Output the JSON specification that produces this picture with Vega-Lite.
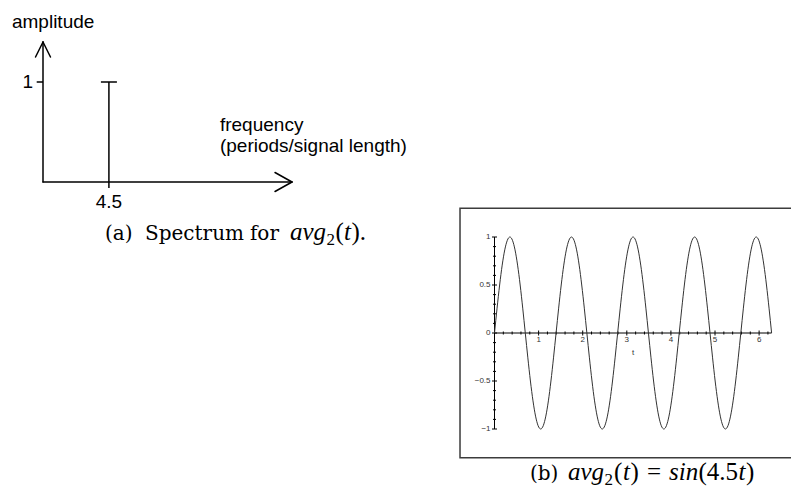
{
  "$schema": "https://vega.github.io/schema/vega-lite/v6.json",
  "width": 791,
  "height": 488,
  "padding": 0,
  "autosize": {"type": "none"},
  "background": "white",
  "config": {"view": {"stroke": null}, "axis": {"disable": true}},
  "datasets": {
    "axesA": [
      {"x": 0, "y": 0, "x2": 0, "y2": 1.4},
      {"x": 0, "y": 0, "x2": 17, "y2": 0},
      {"x": -0.51, "y": 1.25, "x2": 0, "y2": 1.4},
      {"x": 0.51, "y": 1.25, "x2": 0, "y2": 1.4},
      {"x": 15.84, "y": 0.095, "x2": 17, "y2": 0},
      {"x": 15.84, "y": -0.095, "x2": 17, "y2": 0}
    ],
    "spectrum": [{"freq": 4.5, "amp": 1}],
    "labelsA": [
      {"x": -2.12, "y": 1.54, "text": "amplitude"},
      {"x": 12.08, "y": 0.513, "text": "frequency"},
      {"x": 12.08, "y": 0.303, "text": "(periods/signal length)"}
    ],
    "captionA": [
      {"x": 4.233, "y": -0.58, "text": "(a)", "style": "rm"},
      {"x": 6.964, "y": -0.58, "text": "Spectrum", "style": "rm"},
      {"x": 14.13, "y": -0.58, "text": "for", "style": "rm"},
      {"x": 16.86, "y": -0.58, "text": "avg", "style": "mit"},
      {"x": 19.36, "y": -0.63, "text": "2", "style": "sub"},
      {"x": 19.97, "y": -0.58, "text": "(", "style": "mrm"},
      {"x": 20.55, "y": -0.58, "text": "t", "style": "mit"},
      {"x": 21.06, "y": -0.58, "text": ").", "style": "mrm"}
    ],
    "frameB": [{"x": -0.782, "x2": 6.95, "y": -1.3, "y2": 1.3}],
    "axesB": [
      {"x": 0, "y": -1, "x2": 0, "y2": 1},
      {"x": 0, "y": 0, "x2": 6.2832, "y2": 0}
    ],
    "yTicks": [
      {"v": -1, "major": true}, {"v": -0.5, "major": true}, {"v": 0, "major": true},
      {"v": 0.5, "major": true}, {"v": 1, "major": true},
      {"v": -0.9, "major": false}, {"v": -0.8, "major": false}, {"v": -0.7, "major": false},
      {"v": -0.6, "major": false}, {"v": -0.4, "major": false}, {"v": -0.3, "major": false},
      {"v": -0.2, "major": false}, {"v": -0.1, "major": false}, {"v": 0.1, "major": false},
      {"v": 0.2, "major": false}, {"v": 0.3, "major": false}, {"v": 0.4, "major": false},
      {"v": 0.6, "major": false}, {"v": 0.7, "major": false}, {"v": 0.8, "major": false},
      {"v": 0.9, "major": false}
    ],
    "xTicks": [
      {"v": 1, "major": true}, {"v": 2, "major": true}, {"v": 3, "major": true},
      {"v": 4, "major": true}, {"v": 5, "major": true}, {"v": 6, "major": true},
      {"v": 0.2, "major": false}, {"v": 0.4, "major": false}, {"v": 0.6, "major": false},
      {"v": 0.8, "major": false}, {"v": 1.2, "major": false}, {"v": 1.4, "major": false},
      {"v": 1.6, "major": false}, {"v": 1.8, "major": false}, {"v": 2.2, "major": false},
      {"v": 2.4, "major": false}, {"v": 2.6, "major": false}, {"v": 2.8, "major": false},
      {"v": 3.2, "major": false}, {"v": 3.4, "major": false}, {"v": 3.6, "major": false},
      {"v": 3.8, "major": false}, {"v": 4.2, "major": false}, {"v": 4.4, "major": false},
      {"v": 4.6, "major": false}, {"v": 4.8, "major": false}, {"v": 5.2, "major": false},
      {"v": 5.4, "major": false}, {"v": 5.6, "major": false}, {"v": 5.8, "major": false},
      {"v": 6.2, "major": false}
    ],
    "wave": [
      {"t": 0, "v": 0}, {"t": 0.0582, "v": 0.2588}, {"t": 0.1164, "v": 0.5}, {"t": 0.1745, "v": 0.7071},
      {"t": 0.2327, "v": 0.866}, {"t": 0.2909, "v": 0.9659}, {"t": 0.3491, "v": 1}, {"t": 0.4072, "v": 0.9659},
      {"t": 0.4654, "v": 0.866}, {"t": 0.5236, "v": 0.7071}, {"t": 0.5818, "v": 0.5}, {"t": 0.64, "v": 0.2588},
      {"t": 0.6981, "v": 0}, {"t": 0.7563, "v": -0.2588}, {"t": 0.8145, "v": -0.5}, {"t": 0.8727, "v": -0.7071},
      {"t": 0.9308, "v": -0.866}, {"t": 0.989, "v": -0.9659}, {"t": 1.0472, "v": -1}, {"t": 1.1054, "v": -0.9659},
      {"t": 1.1636, "v": -0.866}, {"t": 1.2217, "v": -0.7071}, {"t": 1.2799, "v": -0.5}, {"t": 1.3381, "v": -0.2588},
      {"t": 1.3963, "v": 0}, {"t": 1.4544, "v": 0.2588}, {"t": 1.5126, "v": 0.5}, {"t": 1.5708, "v": 0.7071},
      {"t": 1.629, "v": 0.866}, {"t": 1.6872, "v": 0.9659}, {"t": 1.7453, "v": 1}, {"t": 1.8035, "v": 0.9659},
      {"t": 1.8617, "v": 0.866}, {"t": 1.9199, "v": 0.7071}, {"t": 1.978, "v": 0.5}, {"t": 2.0362, "v": 0.2588},
      {"t": 2.0944, "v": 0}, {"t": 2.1526, "v": -0.2588}, {"t": 2.2108, "v": -0.5}, {"t": 2.2689, "v": -0.7071},
      {"t": 2.3271, "v": -0.866}, {"t": 2.3853, "v": -0.9659}, {"t": 2.4435, "v": -1}, {"t": 2.5016, "v": -0.9659},
      {"t": 2.5598, "v": -0.866}, {"t": 2.618, "v": -0.7071}, {"t": 2.6762, "v": -0.5}, {"t": 2.7344, "v": -0.2588},
      {"t": 2.7925, "v": 0}, {"t": 2.8507, "v": 0.2588}, {"t": 2.9089, "v": 0.5}, {"t": 2.9671, "v": 0.7071},
      {"t": 3.0252, "v": 0.866}, {"t": 3.0834, "v": 0.9659}, {"t": 3.1416, "v": 1}, {"t": 3.1998, "v": 0.9659},
      {"t": 3.258, "v": 0.866}, {"t": 3.3161, "v": 0.7071}, {"t": 3.3743, "v": 0.5}, {"t": 3.4325, "v": 0.2588},
      {"t": 3.4907, "v": 0}, {"t": 3.5488, "v": -0.2588}, {"t": 3.607, "v": -0.5}, {"t": 3.6652, "v": -0.7071},
      {"t": 3.7234, "v": -0.866}, {"t": 3.7815, "v": -0.9659}, {"t": 3.8397, "v": -1}, {"t": 3.8979, "v": -0.9659},
      {"t": 3.9561, "v": -0.866}, {"t": 4.0143, "v": -0.7071}, {"t": 4.0724, "v": -0.5}, {"t": 4.1306, "v": -0.2588},
      {"t": 4.1888, "v": 0}, {"t": 4.247, "v": 0.2588}, {"t": 4.3051, "v": 0.5}, {"t": 4.3633, "v": 0.7071},
      {"t": 4.4215, "v": 0.866}, {"t": 4.4797, "v": 0.9659}, {"t": 4.5379, "v": 1}, {"t": 4.596, "v": 0.9659},
      {"t": 4.6542, "v": 0.866}, {"t": 4.7124, "v": 0.7071}, {"t": 4.7706, "v": 0.5}, {"t": 4.8287, "v": 0.2588},
      {"t": 4.8869, "v": 0}, {"t": 4.9451, "v": -0.2588}, {"t": 5.0033, "v": -0.5}, {"t": 5.0615, "v": -0.7071},
      {"t": 5.1196, "v": -0.866}, {"t": 5.1778, "v": -0.9659}, {"t": 5.236, "v": -1}, {"t": 5.2941, "v": -0.9659},
      {"t": 5.3523, "v": -0.866}, {"t": 5.4105, "v": -0.7071}, {"t": 5.4687, "v": -0.5}, {"t": 5.5269, "v": -0.2588},
      {"t": 5.5851, "v": 0}, {"t": 5.6432, "v": 0.2588}, {"t": 5.7014, "v": 0.5}, {"t": 5.7596, "v": 0.7071},
      {"t": 5.8178, "v": 0.866}, {"t": 5.876, "v": 0.9659}, {"t": 5.9341, "v": 1}, {"t": 5.9923, "v": 0.9659},
      {"t": 6.0505, "v": 0.866}, {"t": 6.1087, "v": 0.7071}, {"t": 6.1669, "v": 0.5}, {"t": 6.225, "v": 0.2588},
      {"t": 6.2832, "v": 0}
    ],
    "axisTitleB": [{"t": 3.1416, "v": -0.205, "text": "t"}],
    "captionB": [
      {"x": 0.805, "y": -1.531, "text": "(b)", "style": "rm"},
      {"x": 1.667, "y": -1.531, "text": "avg", "style": "mit"},
      {"x": 2.494, "y": -1.583, "text": "2", "style": "sub"},
      {"x": 2.71, "y": -1.531, "text": "(", "style": "mrm"},
      {"x": 2.914, "y": -1.531, "text": "t", "style": "mit"},
      {"x": 3.084, "y": -1.531, "text": ")", "style": "mrm"},
      {"x": 3.458, "y": -1.531, "text": "=", "style": "mrm"},
      {"x": 3.957, "y": -1.531, "text": "sin", "style": "mit"},
      {"x": 4.626, "y": -1.531, "text": "(4.5", "style": "mrm"},
      {"x": 5.533, "y": -1.531, "text": "t", "style": "mit"},
      {"x": 5.703, "y": -1.531, "text": ")", "style": "mrm"}
    ]
  },
  "layer": [
    {
      "layer": [
        {
          "data": {"name": "axesA"},
          "mark": {"type": "rule", "color": "black", "strokeWidth": 1.5, "strokeCap": "round"},
          "encoding": {
            "x": {"field": "x", "type": "quantitative", "axis": null,
                  "scale": {"domain": [0, 17], "range": [43, 292], "nice": false, "zero": false}},
            "y": {"field": "y", "type": "quantitative", "axis": null,
                  "scale": {"domain": [0, 1.4], "range": [182, 42], "nice": false, "zero": false}},
            "x2": {"field": "x2"},
            "y2": {"field": "y2"}
          }
        },
        {
          "data": {"name": "spectrum"},
          "mark": {"type": "rule", "color": "black", "strokeWidth": 1.5},
          "encoding": {
            "x": {"field": "freq", "type": "quantitative"},
            "y": {"field": "amp", "type": "quantitative"},
            "y2": {"datum": -0.06}
          }
        },
        {
          "data": {"name": "spectrum"},
          "mark": {"type": "tick", "orient": "horizontal", "size": 16, "thickness": 1.5, "color": "black", "opacity": 1},
          "encoding": {
            "x": {"field": "freq", "type": "quantitative"},
            "y": {"field": "amp", "type": "quantitative"}
          }
        },
        {
          "data": {"name": "spectrum"},
          "mark": {"type": "rule", "color": "black", "strokeWidth": 1.5},
          "encoding": {
            "x": {"datum": -0.43},
            "x2": {"datum": 0},
            "y": {"field": "amp", "type": "quantitative"}
          }
        },
        {
          "data": {"name": "spectrum"},
          "mark": {"type": "text", "font": "Liberation Sans", "fontSize": 19, "color": "black", "align": "center", "baseline": "middle", "dy": 20},
          "encoding": {
            "x": {"field": "freq", "type": "quantitative"},
            "y": {"datum": 0},
            "text": {"field": "freq", "type": "quantitative"}
          }
        },
        {
          "data": {"name": "spectrum"},
          "mark": {"type": "text", "font": "Liberation Sans", "fontSize": 19, "color": "black", "align": "right", "baseline": "middle", "dx": -10},
          "encoding": {
            "x": {"datum": 0},
            "y": {"field": "amp", "type": "quantitative"},
            "text": {"field": "amp", "type": "quantitative"}
          }
        },
        {
          "data": {"name": "labelsA"},
          "mark": {"type": "text", "font": "Liberation Sans", "fontSize": 19, "color": "black", "align": "left", "baseline": "alphabetic"},
          "encoding": {
            "x": {"field": "x", "type": "quantitative"},
            "y": {"field": "y", "type": "quantitative"},
            "text": {"field": "text"}
          }
        },
        {
          "data": {"name": "captionA"},
          "transform": [{"filter": "datum.style === 'rm'"}],
          "mark": {"type": "text", "font": "DejaVu Serif", "fontSize": 20, "color": "black", "align": "left", "baseline": "alphabetic"},
          "encoding": {
            "x": {"field": "x", "type": "quantitative"},
            "y": {"field": "y", "type": "quantitative"},
            "text": {"field": "text"}
          }
        },
        {
          "data": {"name": "captionA"},
          "transform": [{"filter": "datum.style === 'mrm'"}],
          "mark": {"type": "text", "font": "Liberation Serif", "fontSize": 25, "color": "black", "align": "left", "baseline": "alphabetic"},
          "encoding": {
            "x": {"field": "x", "type": "quantitative"},
            "y": {"field": "y", "type": "quantitative"},
            "text": {"field": "text"}
          }
        },
        {
          "data": {"name": "captionA"},
          "transform": [{"filter": "datum.style === 'mit'"}],
          "mark": {"type": "text", "font": "Liberation Serif", "fontStyle": "italic", "fontSize": 25, "color": "black", "align": "left", "baseline": "alphabetic"},
          "encoding": {
            "x": {"field": "x", "type": "quantitative"},
            "y": {"field": "y", "type": "quantitative"},
            "text": {"field": "text"}
          }
        },
        {
          "data": {"name": "captionA"},
          "transform": [{"filter": "datum.style === 'sub'"}],
          "mark": {"type": "text", "font": "Liberation Serif", "fontSize": 17, "color": "black", "align": "left", "baseline": "alphabetic"},
          "encoding": {
            "x": {"field": "x", "type": "quantitative"},
            "y": {"field": "y", "type": "quantitative"},
            "text": {"field": "text"}
          }
        }
      ]
    },
    {
      "layer": [
        {
          "data": {"name": "frameB"},
          "mark": {"type": "rect", "fillOpacity": 0, "stroke": "#3c3c3c", "strokeWidth": 1.5},
          "encoding": {
            "x": {"field": "x", "type": "quantitative", "axis": null,
                  "scale": {"domain": [0, 6.2832], "range": [494.5, 771.6], "nice": false, "zero": false}},
            "x2": {"field": "x2"},
            "y": {"field": "y", "type": "quantitative", "axis": null,
                  "scale": {"domain": [-1, 1], "range": [429, 237], "nice": false, "zero": false}},
            "y2": {"field": "y2"}
          }
        },
        {
          "data": {"name": "axesB"},
          "mark": {"type": "rule", "color": "black", "strokeWidth": 1},
          "encoding": {
            "x": {"field": "x", "type": "quantitative"},
            "x2": {"field": "x2"},
            "y": {"field": "y", "type": "quantitative"},
            "y2": {"field": "y2"}
          }
        },
        {
          "data": {"name": "yTicks"},
          "transform": [{"filter": "datum.major"}],
          "mark": {"type": "tick", "orient": "horizontal", "size": 5, "thickness": 1, "color": "black", "opacity": 1},
          "encoding": {
            "x": {"datum": 0},
            "y": {"field": "v", "type": "quantitative"}
          }
        },
        {
          "data": {"name": "yTicks"},
          "transform": [{"filter": "!datum.major"}],
          "mark": {"type": "tick", "orient": "horizontal", "size": 3, "thickness": 1, "color": "black", "opacity": 1},
          "encoding": {
            "x": {"datum": 0},
            "y": {"field": "v", "type": "quantitative"}
          }
        },
        {
          "data": {"name": "xTicks"},
          "transform": [{"filter": "datum.major"}],
          "mark": {"type": "tick", "orient": "vertical", "size": 5, "thickness": 1, "color": "black", "opacity": 1},
          "encoding": {
            "x": {"field": "v", "type": "quantitative"},
            "y": {"datum": 0}
          }
        },
        {
          "data": {"name": "xTicks"},
          "transform": [{"filter": "!datum.major"}],
          "mark": {"type": "tick", "orient": "vertical", "size": 3, "thickness": 1, "color": "black", "opacity": 1},
          "encoding": {
            "x": {"field": "v", "type": "quantitative"},
            "y": {"datum": 0}
          }
        },
        {
          "data": {"name": "yTicks"},
          "transform": [{"filter": "datum.major"}],
          "mark": {"type": "text", "font": "Liberation Sans", "fontSize": 8, "color": "#333", "align": "right", "baseline": "middle", "dx": -4},
          "encoding": {
            "x": {"datum": 0},
            "y": {"field": "v", "type": "quantitative"},
            "text": {"field": "v", "type": "quantitative", "format": "~g"}
          }
        },
        {
          "data": {"name": "xTicks"},
          "transform": [{"filter": "datum.major"}],
          "mark": {"type": "text", "font": "Liberation Sans", "fontSize": 8, "color": "#333", "align": "center", "baseline": "top", "dy": 3},
          "encoding": {
            "x": {"field": "v", "type": "quantitative"},
            "y": {"datum": 0},
            "text": {"field": "v", "type": "quantitative", "format": "~g"}
          }
        },
        {
          "data": {"name": "axisTitleB"},
          "mark": {"type": "text", "font": "Liberation Sans", "fontSize": 8, "color": "#333", "align": "center", "baseline": "middle"},
          "encoding": {
            "x": {"field": "t", "type": "quantitative"},
            "y": {"field": "v", "type": "quantitative"},
            "text": {"field": "text"}
          }
        },
        {
          "data": {"name": "wave"},
          "mark": {"type": "line", "color": "#333", "strokeWidth": 1, "interpolate": "monotone"},
          "encoding": {
            "x": {"field": "t", "type": "quantitative"},
            "y": {"field": "v", "type": "quantitative"}
          }
        },
        {
          "data": {"name": "captionB"},
          "transform": [{"filter": "datum.style === 'rm'"}],
          "mark": {"type": "text", "font": "DejaVu Serif", "fontSize": 20, "color": "black", "align": "left", "baseline": "alphabetic"},
          "encoding": {
            "x": {"field": "x", "type": "quantitative"},
            "y": {"field": "y", "type": "quantitative"},
            "text": {"field": "text"}
          }
        },
        {
          "data": {"name": "captionB"},
          "transform": [{"filter": "datum.style === 'mrm'"}],
          "mark": {"type": "text", "font": "Liberation Serif", "fontSize": 25, "color": "black", "align": "left", "baseline": "alphabetic"},
          "encoding": {
            "x": {"field": "x", "type": "quantitative"},
            "y": {"field": "y", "type": "quantitative"},
            "text": {"field": "text"}
          }
        },
        {
          "data": {"name": "captionB"},
          "transform": [{"filter": "datum.style === 'mit'"}],
          "mark": {"type": "text", "font": "Liberation Serif", "fontStyle": "italic", "fontSize": 25, "color": "black", "align": "left", "baseline": "alphabetic"},
          "encoding": {
            "x": {"field": "x", "type": "quantitative"},
            "y": {"field": "y", "type": "quantitative"},
            "text": {"field": "text"}
          }
        },
        {
          "data": {"name": "captionB"},
          "transform": [{"filter": "datum.style === 'sub'"}],
          "mark": {"type": "text", "font": "Liberation Serif", "fontSize": 17, "color": "black", "align": "left", "baseline": "alphabetic"},
          "encoding": {
            "x": {"field": "x", "type": "quantitative"},
            "y": {"field": "y", "type": "quantitative"},
            "text": {"field": "text"}
          }
        }
      ]
    }
  ],
  "resolve": {"scale": {"x": "independent", "y": "independent"}}
}
